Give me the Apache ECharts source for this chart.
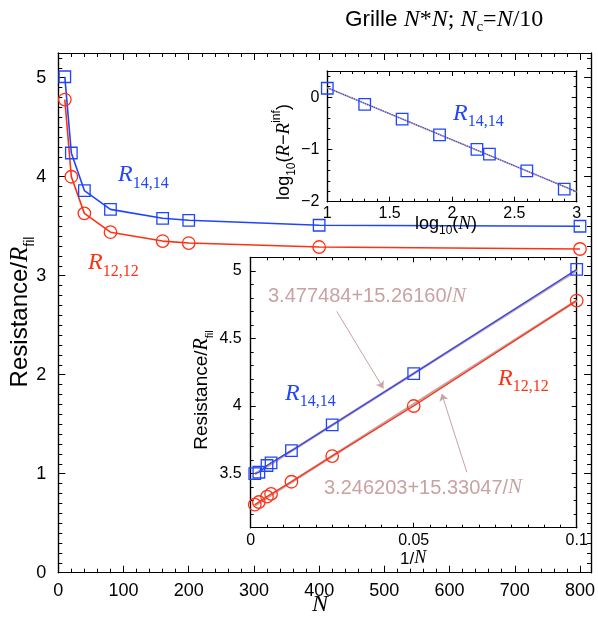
<!DOCTYPE html>
<html><head><meta charset="utf-8">
<script src="https://cdn.jsdelivr.net/npm/echarts@6/dist/echarts.min.js"></script>
<style>html,body{margin:0;padding:0;background:#fff}#c{width:598px;height:621px}</style>
</head><body><div id="c"></div>
<script>
// ---------- data ----------
const N = [10, 20, 40, 80, 160, 200, 400, 800];
const R14 = [5.01, 4.24, 3.86, 3.67, 3.58, 3.56, 3.51, 3.50];
const R12 = [4.78, 4.00, 3.63, 3.44, 3.35, 3.33, 3.29, 3.27];
const invN = [0.1, 0.05, 0.025, 0.0125, 0.00625, 0.005, 0.0025, 0.00125];
const logN = [1, 1.3, 1.6, 1.9, 2.2, 2.3, 2.6, 2.9];
const logDiff14 = [0.17, -0.14, -0.42, -0.72, -1.0, -1.09, -1.41, -1.76];
const logFitX = [1, 3];
const logFitY = [0.18, -1.81];
const fit14X = [0.00125, 0.1];
const fit14Y = [3.496, 5.004];
const fit12X = [0.00125, 0.1];
const fit12Y = [3.265, 4.779];
const arrow1 = [[0.0264, 4.70], [0.0407, 4.13]];
const arrow2 = [[0.0663, 3.51], [0.0586, 4.09]];
const fit14Text = '3.477484+15.26160/';
const fit12Text = '3.246203+15.33047/';

// tick labels
const mainXVals = [0, 100, 200, 300, 400, 500, 600, 700, 800];
const mainXLabels = ['0', '100', '200', '300', '400', '500', '600', '700', '800'];
const mainYVals = [0, 1, 2, 3, 4, 5];
const mainYLabels = ['0', '1', '2', '3', '4', '5'];
const upXVals = [1, 1.5, 2, 2.5, 3];
const upXLabels = ['1', '1.5', '2', '2.5', '3'];
const upYVals = [-2, -1, 0];
const upYLabels = ['\u22122', '\u22121', '0'];
const lowXVals = [0, 0.05, 0.1];
const lowXLabels = ['0', '0.05', '0.1'];
const lowYVals = [3.5, 4, 4.5, 5];
const lowYLabels = ['3.5', '4', '4.5', '5'];

// ---------- styles ----------
const BLUE = '#1f45ff';
const RED = '#ff3112';
const ROSY = '#c9a2a2';
const SANS = '"Liberation Sans", Arial, Helvetica, sans-serif';
const SERIF = '"Liberation Serif", "Times New Roman", serif';

function steps(a, b, s) {
  const out = []; const n = Math.round((b - a) / s);
  for (let i = 0; i <= n; i++) out.push(+(a + i * s).toFixed(6));
  return out;
}

function axesFor(g, dim, min, max, majVals, labels, minVals, lab, majLen, minLen) {
  const pos = dim === 'x' ? ['bottom', 'top'] : ['left', 'right'];
  const res = [];
  pos.forEach((p, pi) => {
    [true, false].forEach(isMaj => {
      res.push({
        type: 'value', gridIndex: g, position: p, min: min, max: max,
        axisLine: { show: true, onZero: false, lineStyle: { color: '#000', width: 1.2 } },
        axisTick: { show: true, inside: true, length: isMaj ? majLen : minLen,
          customValues: isMaj ? majVals : minVals, lineStyle: { color: '#000', width: 1 } },
        axisLabel: (isMaj && pi === 0) ? Object.assign({
          show: true, customValues: majVals, color: '#000', fontFamily: SANS,
          formatter: v => { const i = majVals.findIndex(t => Math.abs(t - v) < 1e-9); return i >= 0 ? labels[i] : ''; }
        }, lab) : { show: false },
        splitLine: { show: false }, minorTick: { show: false }, splitArea: { show: false },
        axisPointer: { show: false }
      });
    });
  });
  return res;
}

const grids = [
  { left: 58.3, top: 53, width: 536, height: 519.7 },
  { left: 327.3, top: 71, width: 249.4, height: 130.7 },
  { left: 250.7, top: 257.3, width: 326, height: 270.4 }
];

const xAxes = [].concat(
  axesFor(0, 'x', 0, 817, mainXVals, mainXLabels, steps(0, 800, 20), { fontSize: 18, margin: 9 }, 7, 4),
  axesFor(1, 'x', 1, 3, upXVals, upXLabels, steps(1, 3, 0.1), { fontSize: 16, margin: 4 }, 5, 3),
  axesFor(2, 'x', 0, 0.1, lowXVals, lowXLabels, steps(0, 0.1, 0.005), { fontSize: 16, margin: 5 }, 5, 3)
);
const yAxes = [].concat(
  axesFor(0, 'y', 0, 5.25, mainYVals, mainYLabels, steps(0, 5.2, 0.1), { fontSize: 18, margin: 12 }, 7, 4),
  axesFor(1, 'y', -2, 0.5, upYVals, upYLabels, steps(-2, 0.4, 0.2), { fontSize: 16, margin: 8 }, 5, 3),
  axesFor(2, 'y', 3.1, 5.1, lowYVals, lowYLabels, steps(3.1, 5.1, 0.1), { fontSize: 16, margin: 9 }, 5, 3)
);

function zip(a, b) { return a.map((v, i) => [v, b[i]]); }

function markerSeries(name, ax, xs, ys, color, sym, size, lw, showLine) {
  return {
    name: name, type: 'line', xAxisIndex: ax, yAxisIndex: ax,
    data: zip(xs, ys), symbol: sym, symbolSize: size, showSymbol: true, showAllSymbol: true,
    lineStyle: { color: color, width: showLine ? lw : 0, opacity: showLine ? 1 : 0 },
    itemStyle: { color: 'rgba(0,0,0,0)', borderColor: color, borderWidth: 1.3 },
    emphasis: { disabled: true }, z: 4, clip: false
  };
}

function fitSeries(ax, xs, ys, color, width, type, arrow) {
  const s = {
    type: 'line', xAxisIndex: ax, yAxisIndex: ax, data: zip(xs, ys), symbol: 'none',
    lineStyle: { color: color, width: width, type: type }, emphasis: { disabled: true }, z: 3
  };
  if (arrow) {
    s.markLine = {
      silent: true, symbol: ['none', 'arrow'], symbolSize: 7,
      label: { show: false },
      lineStyle: { color: ROSY, width: 1, type: 'solid' },
      data: [[{ coord: arrow[0] }, { coord: arrow[1] }]]
    };
  }
  return s;
}

const series = [
  markerSeries('R14', 0, N, R14, BLUE, 'rect', 11.5, 1.6, true),
  markerSeries('R12', 0, N, R12, RED, 'circle', 12.5, 1.6, true),
  fitSeries(4, logFitX, logFitY, ROSY, 1.6, 'solid'),
  fitSeries(4, logFitX, logFitY, BLUE, 1.2, 'dotted'),
  markerSeries('log14', 4, logN, logDiff14, BLUE, 'rect', 11.5, 1, false),
  fitSeries(8, fit14X, fit14Y, ROSY, 2.6, 'solid', arrow1),
  fitSeries(8, fit12X, fit12Y, ROSY, 2.6, 'solid', arrow2),
  markerSeries('inv14', 8, invN, R14, BLUE, 'rect', 11.5, 1.2, true),
  markerSeries('inv12', 8, invN, R12, RED, 'circle', 12.5, 1.2, true)
];

// ---------- rich text helper ----------
const ctx = document.createElement('canvas').getContext('2d');
function mkFont(kind, size) {
  if (kind === 'si') return 'italic ' + size + 'px ' + SERIF;
  if (kind === 's') return size + 'px ' + SERIF;
  return size + 'px ' + SANS;
}
// parts: [text, kind, size, dy]
function rich(x, y, parts, color, opt) {
  opt = opt || {};
  let w = 0; const items = [];
  parts.forEach(p => {
    const f = mkFont(p[1], p[2]); ctx.font = f;
    const tw = ctx.measureText(p[0]).width;
    items.push({ t: p[0], f: f, size: p[2], dy: p[3] || 0, x: w }); w += tw;
  });
  const x0 = opt.align === 'center' ? -w / 2 : 0;
  return {
    type: 'group', x: x, y: y, rotation: opt.rot || 0, silent: true, z: 100,
    children: items.map(it => ({
      type: 'text', x: x0 + it.x, y: -0.34 * it.size + it.dy, silent: true, z: 100,
      style: { text: it.t, font: it.f, fill: color, align: 'left', verticalAlign: 'middle',
               textAlign: 'left', textVerticalAlign: 'middle' }
    }))
  };
}

function Rlabel(x, y, sub, color) {
  return rich(x, y, [['R', 'si', 24, 0], [sub, 's', 16, 6]], color);
}

const graphics = [
  rich(345, 27.5, [['Grille ', 'n', 22.5, 0], ['N', 'si', 24, 0], ['*', 's', 24, 0], ['N', 'si', 24, 0],
                   ['; ', 's', 24, 0], ['N', 'si', 24, 0], ['c', 's', 15, 5], ['=', 's', 24, 0],
                   ['N', 'si', 24, 0], ['/10', 's', 24, 0]], '#000'),
  Rlabel(118, 183, '14,14', BLUE),
  Rlabel(88, 271, '12,12', RED),
  Rlabel(453, 121.5, '14,14', BLUE),
  Rlabel(285, 401.5, '14,14', BLUE),
  Rlabel(498, 386.5, '12,12', RED),
  rich(268, 303.3, [[fit14Text, 'n', 20, 0], ['N', 'si', 21, 0]], ROSY),
  rich(324, 495, [[fit12Text, 'n', 20, 0], ['N', 'si', 21, 0]], ROSY),
  rich(28.5, 312, [['Resistance/', 'n', 24, 0], ['R', 'si', 25, 0], ['fil', 'n', 14, 6]], '#000',
       { rot: Math.PI / 2, align: 'center' }),
  rich(208.3, 390, [['Resistance/', 'n', 19, 0], ['R', 'si', 20, 0], ['fil', 'n', 11, 5]], '#000',
       { rot: Math.PI / 2, align: 'center' }),
  rich(290.5, 152, [['log', 'n', 18, 0], ['10', 'n', 12, 5], ['(', 'n', 18, 0], ['R', 'si', 19, 0],
                    ['\u2212', 'n', 18, 0], ['R', 'si', 19, 0], ['inf', 'n', 12, -10], [')', 'n', 18, 0]], '#000',
       { rot: Math.PI / 2, align: 'center' }),
  rich(320, 613, [['N', 'si', 24, 0]], '#000', { align: 'center' }),
  rich(415, 230, [['log', 'n', 18, 0], ['10', 'n', 12, 5], ['(', 'n', 18, 0], ['N', 'si', 19, 0], [')', 'n', 18, 0]], '#000'),
  rich(400, 564.7, [['1/', 'n', 17, 0], ['N', 'si', 18, 0]], '#000')
];

const chart = echarts.init(document.getElementById('c'), null, { renderer: 'canvas' });
chart.setOption({
  animation: false,
  backgroundColor: '#fff',
  grid: grids,
  xAxis: xAxes,
  yAxis: yAxes,
  series: series,
  graphic: { elements: graphics }
});
</script>
</body></html>
